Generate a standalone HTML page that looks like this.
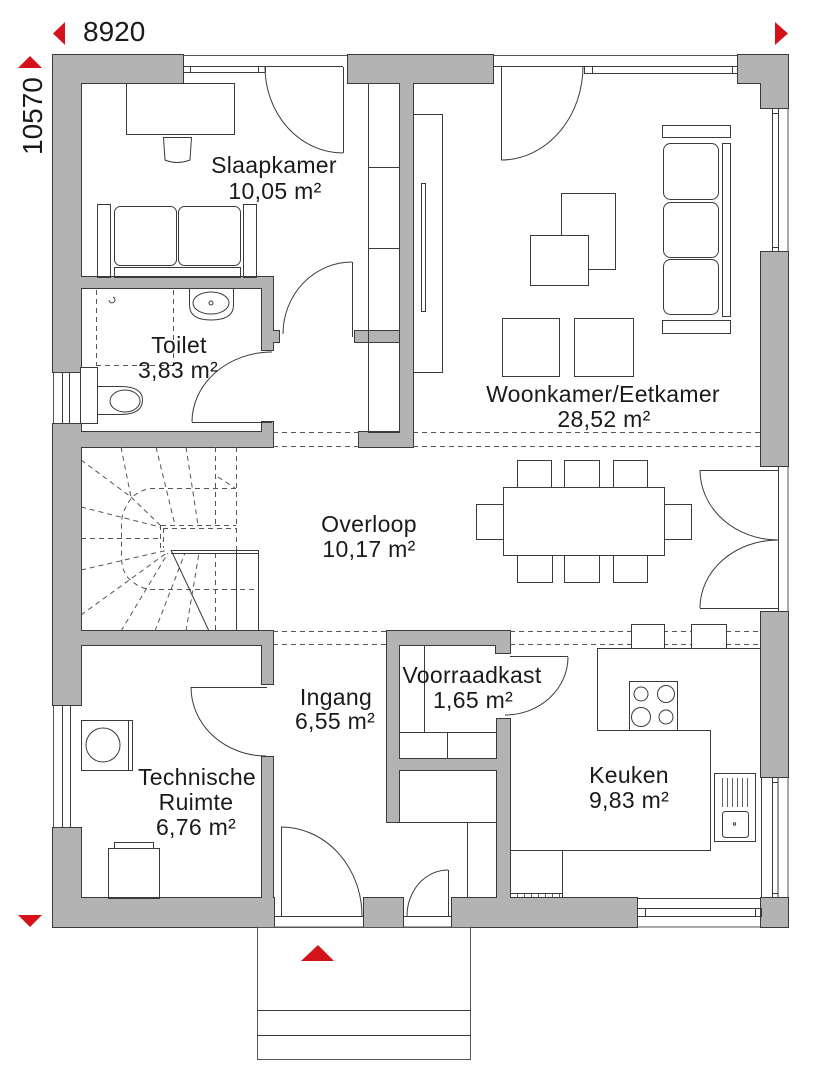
<!DOCTYPE html>
<html><head><meta charset="utf-8"><style>
html,body{margin:0;padding:0;background:#fff;}
svg{display:block;}
</style></head><body>
<svg xmlns="http://www.w3.org/2000/svg" width="816" height="1080" viewBox="0 0 816 1080" font-family="'Liberation Sans', sans-serif">
<rect width="816" height="1080" fill="#fff"/>
<defs>
<g id="w">
<rect x="53" y="55" width="130" height="28"/>
<rect x="348" y="55" width="145" height="28"/>
<rect x="738" y="55" width="50" height="28"/>
<rect x="761" y="55" width="27" height="53"/>
<rect x="53" y="55" width="28" height="317"/>
<rect x="53" y="424" width="28" height="281"/>
<rect x="53" y="828" width="28" height="99"/>
<rect x="53" y="898" width="221" height="29"/>
<rect x="364" y="898" width="39" height="29"/>
<rect x="452" y="898" width="185" height="29"/>
<rect x="761" y="898" width="27" height="29"/>
<rect x="761" y="252" width="27" height="214"/>
<rect x="761" y="612" width="27" height="165"/>
<rect x="70" y="277" width="203" height="11"/>
<rect x="262" y="277" width="11" height="73"/>
<rect x="262" y="331" width="17" height="11"/>
<rect x="262" y="422" width="11" height="25"/>
<rect x="70" y="432" width="203" height="15"/>
<rect x="70" y="631" width="203" height="14"/>
<rect x="262" y="631" width="11" height="53"/>
<rect x="262" y="757" width="11" height="145"/>
<rect x="400" y="75" width="13" height="372"/>
<rect x="355" y="331" width="50" height="11"/>
<rect x="359" y="432" width="54" height="15"/>
<rect x="387" y="631" width="123" height="14"/>
<rect x="496" y="631" width="14" height="22"/>
<rect x="387" y="631" width="12" height="191"/>
<rect x="497" y="719" width="13" height="183"/>
<rect x="395" y="759" width="106" height="11"/>
</g>
</defs>

<!-- perimeter -->
<rect x="53.5" y="55.5" width="734.5" height="871.5" fill="none" stroke="#555" stroke-width="1"/>

<use href="#w" fill="#b3b3b3" stroke="#3a3a3a" stroke-width="2"/>
<use href="#w" fill="#b3b3b3" stroke="none"/>

<g fill="none" stroke="#3a3a3a" stroke-width="1">
<!-- windows -->
<line x1="183" y1="66.5" x2="343" y2="66.5"/>
<line x1="183" y1="72.5" x2="265" y2="72.5"/>
<line x1="190.5" y1="66" x2="190.5" y2="72"/>
<line x1="258.5" y1="66" x2="258.5" y2="72"/>
<line x1="265.5" y1="66" x2="265.5" y2="72"/>
<line x1="493" y1="66.5" x2="738" y2="66.5"/>
<rect x="584.5" y="66.5" width="153" height="7"/>
<line x1="592.5" y1="66" x2="592.5" y2="73"/>
<line x1="732.5" y1="66" x2="732.5" y2="73"/>
<rect x="772.5" y="108.5" width="6" height="143"/>
<line x1="772" y1="113.5" x2="778" y2="113.5"/>
<line x1="772" y1="247.5" x2="778" y2="247.5"/>
<line x1="778.5" y1="466" x2="778.5" y2="612"/>
<rect x="772.5" y="777.5" width="5.5" height="120"/>
<line x1="772" y1="782.5" x2="778" y2="782.5"/>
<line x1="772" y1="893.5" x2="778" y2="893.5"/>
<line x1="761.5" y1="777" x2="761.5" y2="898"/>
<rect x="637.5" y="908.5" width="124" height="8"/>
<line x1="645.5" y1="908" x2="645.5" y2="916"/>
<line x1="755.5" y1="908" x2="755.5" y2="916"/>
<line x1="637" y1="898.5" x2="761" y2="898.5"/>
<rect x="62.5" y="372.5" width="7" height="51"/>
<rect x="62.5" y="705.5" width="8" height="122"/>
<line x1="274" y1="916.5" x2="364" y2="916.5"/>
<line x1="403" y1="916.5" x2="452" y2="916.5"/>

<!-- doors -->
<line x1="343.5" y1="67" x2="343.5" y2="153"/>
<path d="M265,67 A78,86 0 0,0 343,153"/>
<line x1="501.5" y1="66" x2="501.5" y2="160"/>
<path d="M583,66 A82,94 0 0,1 501,160"/>
<line x1="352.5" y1="262" x2="352.5" y2="337"/>
<path d="M352,262 A69,72 0 0,0 283,334"/>
<line x1="192" y1="422.5" x2="272" y2="422.5"/>
<path d="M272,352 A80,70 0 0,0 192,422"/>
<line x1="191" y1="687.5" x2="267" y2="687.5"/>
<path d="M191,687 A75,69 0 0,0 266,756"/>
<line x1="281.5" y1="827" x2="281.5" y2="916"/>
<path d="M281,827 A81,89 0 0,1 362,916"/>
<line x1="448.5" y1="870" x2="448.5" y2="916"/>
<path d="M448,870 A41,46 0 0,0 407,916"/>
<line x1="510" y1="656.5" x2="568" y2="656.5"/>
<path d="M568,657 A63,58 0 0,1 505,715"/>
<line x1="700" y1="470.5" x2="778" y2="470.5"/>
<path d="M700,470 A78,70 0 0,0 778,540"/>
<line x1="700" y1="608.5" x2="778" y2="608.5"/>
<path d="M700,608 A78,68 0 0,1 778,540"/>

<!-- bedroom -->
<rect x="126.5" y="83.5" width="108" height="51"/>
<path d="M163.5,137.5 L191.5,137.5 L190,160 Q177,165 165,160 Z"/>
<rect x="97.5" y="204.5" width="13" height="73"/>
<rect x="243.5" y="204.5" width="13" height="73"/>
<rect x="114.5" y="206.5" width="62" height="59" rx="6"/>
<rect x="178.5" y="206.5" width="62" height="59" rx="6"/>
<rect x="114.5" y="267.5" width="126" height="10"/>
<!-- wardrobe -->
<rect x="368.5" y="83.5" width="31" height="349"/>
<line x1="368" y1="167.5" x2="400" y2="167.5"/>
<line x1="368" y1="248.5" x2="400" y2="248.5"/>

<!-- toilet -->
<path d="M189.5,288 L189.5,305 Q189.5,320 211,320 Q233.5,320 233.5,305 L233.5,288"/>
<ellipse cx="211" cy="303" rx="18" ry="11"/>
<circle cx="211" cy="303" r="2"/>
<rect x="80.5" y="367.5" width="17" height="56" fill="#fff"/>
<path d="M97.5,386.5 L120,386.5 Q142.5,386.5 142.5,400 Q142.5,414.5 120,414.5 L97.5,414.5"/>
<ellipse cx="125" cy="401" rx="15" ry="11"/>
<path d="M109,300 a3,3 0 1,0 4,-3" />
</g>

<g fill="none" stroke="#555" stroke-width="1" stroke-dasharray="5,4">
<line x1="96.5" y1="290" x2="96.5" y2="365"/>
<line x1="173.5" y1="290" x2="173.5" y2="365"/>
<line x1="96" y1="365.5" x2="173" y2="365.5"/>
<!-- opening dashes -->
<line x1="273" y1="432.5" x2="359" y2="432.5"/>
<line x1="273" y1="446.5" x2="359" y2="446.5"/>
<line x1="413" y1="432.5" x2="761" y2="432.5"/>
<line x1="413" y1="446.5" x2="761" y2="446.5"/>
<line x1="273" y1="631.5" x2="387" y2="631.5"/>
<line x1="273" y1="644.5" x2="387" y2="644.5"/>
<line x1="510" y1="631.5" x2="761" y2="631.5"/>
<line x1="510" y1="644.5" x2="761" y2="644.5"/>
<!-- stairs -->
<line x1="236.5" y1="447" x2="236.5" y2="550"/>
<path d="M236,488.5 L150,488.5 Q133,492 127,505 Q121,515 121.5,525 L121.5,558 Q122,575 133,582 Q140,588 150,589.5 L258,589.5"/>
<line x1="161" y1="525.5" x2="236" y2="525.5"/>
<line x1="163" y1="528.5" x2="236" y2="528.5"/>
<line x1="160.5" y1="525" x2="160.5" y2="548"/>
<line x1="163.5" y1="528" x2="163.5" y2="548"/>
<line x1="81" y1="460" x2="131" y2="497"/>
<line x1="131" y1="497" x2="160" y2="525"/>
<line x1="121" y1="447" x2="131" y2="497"/>
<line x1="156" y1="447" x2="175" y2="525"/>
<line x1="186" y1="447" x2="198" y2="525"/>
<line x1="215.5" y1="447" x2="215.5" y2="525"/>
<line x1="218" y1="477" x2="235" y2="488"/>
<line x1="81" y1="507" x2="160" y2="527"/>
<line x1="81" y1="538.5" x2="160" y2="538.5"/>
<line x1="81" y1="570" x2="168" y2="550"/>
<line x1="81" y1="615" x2="168" y2="552"/>
<line x1="121" y1="631" x2="168" y2="553"/>
<line x1="155" y1="631" x2="185" y2="553"/>
<line x1="186" y1="631" x2="199" y2="553"/>
<line x1="215.5" y1="553" x2="215.5" y2="631"/>
</g>

<g fill="none" stroke="#3a3a3a" stroke-width="1">
<line x1="171" y1="550.5" x2="258" y2="550.5"/>
<line x1="171" y1="553.5" x2="258" y2="553.5"/>
<line x1="258.5" y1="550" x2="258.5" y2="631"/>
<line x1="236.5" y1="550" x2="236.5" y2="631"/>
<line x1="171" y1="550" x2="209" y2="631"/>

<!-- living -->
<rect x="413.5" y="114.5" width="29" height="258"/>
<rect x="421.5" y="183.5" width="4" height="128"/>
<rect x="561.5" y="193.5" width="54" height="76" fill="#fff"/>
<rect x="530.5" y="235.5" width="58" height="50" fill="#fff"/>
<rect x="662.5" y="125.5" width="68" height="12"/>
<rect x="663.5" y="143.5" width="55" height="56" rx="7"/>
<rect x="663.5" y="202.5" width="55" height="55" rx="7"/>
<rect x="663.5" y="259.5" width="55" height="55" rx="7"/>
<rect x="722.5" y="143.5" width="8" height="173"/>
<rect x="662.5" y="320.5" width="68" height="13"/>
<rect x="502.5" y="318.5" width="57" height="58"/>
<rect x="574.5" y="318.5" width="59" height="58"/>
<!-- dining -->
<rect x="517.5" y="460.5" width="34" height="27"/>
<rect x="564.5" y="460.5" width="35" height="27"/>
<rect x="613.5" y="460.5" width="34" height="27"/>
<rect x="517.5" y="555.5" width="35" height="27"/>
<rect x="564.5" y="555.5" width="35" height="27"/>
<rect x="613.5" y="555.5" width="34" height="27"/>
<rect x="476.5" y="504.5" width="27" height="35"/>
<rect x="664.5" y="504.5" width="27" height="35"/>
<rect x="503.5" y="487.5" width="161" height="68" fill="#fff"/>

<!-- tech room -->
<rect x="81.5" y="720.5" width="51" height="50"/>
<line x1="128.5" y1="720" x2="128.5" y2="770"/>
<circle cx="103" cy="745" r="17"/>
<rect x="108.5" y="848.5" width="51" height="50"/>
<rect x="114.5" y="842.5" width="39" height="6"/>

<!-- voorraad / hall closet -->
<line x1="424.5" y1="645" x2="424.5" y2="732"/>
<line x1="399" y1="732.5" x2="497" y2="732.5"/>
<line x1="447.5" y1="732" x2="447.5" y2="759"/>
<line x1="387" y1="822.5" x2="497" y2="822.5"/>
<line x1="467.5" y1="822" x2="467.5" y2="898"/>

<!-- kitchen -->
<rect x="631.5" y="624.5" width="33" height="24" fill="#fff"/>
<rect x="691.5" y="624.5" width="35" height="24" fill="#fff"/>
<path d="M761,648.5 L597.5,648.5 L597.5,730.5 L710.5,730.5 L710.5,850.5 L510,850.5"/>
<rect x="629.5" y="681.5" width="48" height="49" fill="#fff"/>
<circle cx="641" cy="694" r="7"/>
<circle cx="666" cy="694" r="8.5"/>
<circle cx="641" cy="717" r="9.5"/>
<circle cx="666" cy="717" r="7"/>
<rect x="510.5" y="850.5" width="52" height="47"/>
<line x1="510" y1="893.5" x2="563" y2="893.5"/>
<g stroke-width="0.8">
<line x1="517.5" y1="893" x2="517.5" y2="898"/>
<line x1="524.5" y1="893" x2="524.5" y2="898"/>
<line x1="531.5" y1="893" x2="531.5" y2="898"/>
<line x1="538.5" y1="893" x2="538.5" y2="898"/>
<line x1="545.5" y1="893" x2="545.5" y2="898"/>
<line x1="552.5" y1="893" x2="552.5" y2="898"/>
<line x1="559.5" y1="893" x2="559.5" y2="898"/>
</g>
<rect x="714.5" y="773.5" width="41" height="68"/>
<g stroke-width="0.8">
<line x1="722.5" y1="778" x2="722.5" y2="807"/>
<line x1="727.5" y1="778" x2="727.5" y2="807"/>
<line x1="732.5" y1="778" x2="732.5" y2="807"/>
<line x1="737.5" y1="778" x2="737.5" y2="807"/>
<line x1="742.5" y1="778" x2="742.5" y2="807"/>
<line x1="747.5" y1="778" x2="747.5" y2="807"/>
</g>
<rect x="722.5" y="811.5" width="26" height="26" rx="3"/>
<circle cx="734.5" cy="824" r="1.2"/>

<!-- entry steps -->
<rect x="257.5" y="927.5" width="213" height="132" stroke="#555"/>
<line x1="257" y1="1010.5" x2="471" y2="1010.5"/>
<line x1="257" y1="1035.5" x2="471" y2="1035.5"/>
</g>

<!-- red markers -->
<g fill="#d3121a">
<polygon points="65,22 65,45 53,33.5"/>
<polygon points="775,22 775,45 788,33.5"/>
<polygon points="18,68 42,68 30,56"/>
<polygon points="18,915 42,915 30,927"/>
<polygon points="301,961 334,961 318,945"/>
</g>

<!-- dimensions -->
<g fill="#1a1a1a" font-size="28">
<text x="83" y="41">8920</text>
<text transform="translate(42,155) rotate(-90)" x="0" y="0">10570</text>
</g>

<!-- room labels -->
<g fill="#1a1a1a" font-size="23" text-anchor="middle" letter-spacing="0.3">
<text x="274" y="173">Slaapkamer</text>
<text x="275" y="199">10,05 m²</text>
<text x="179" y="353">Toilet</text>
<text x="178" y="378">3,83 m²</text>
<text x="603" y="402">Woonkamer/Eetkamer</text>
<text x="604" y="427">28,52 m²</text>
<text x="369" y="532">Overloop</text>
<text x="369" y="557">10,17 m²</text>
<text x="336" y="705">Ingang</text>
<text x="335" y="729">6,55 m²</text>
<text x="197" y="785">Technische</text>
<text x="196" y="810">Ruimte</text>
<text x="196" y="835">6,76 m²</text>
<text x="472" y="683">Voorraadkast</text>
<text x="473" y="708">1,65 m²</text>
<text x="629" y="783">Keuken</text>
<text x="629" y="808">9,83 m²</text>
</g>
</svg>
</body></html>
